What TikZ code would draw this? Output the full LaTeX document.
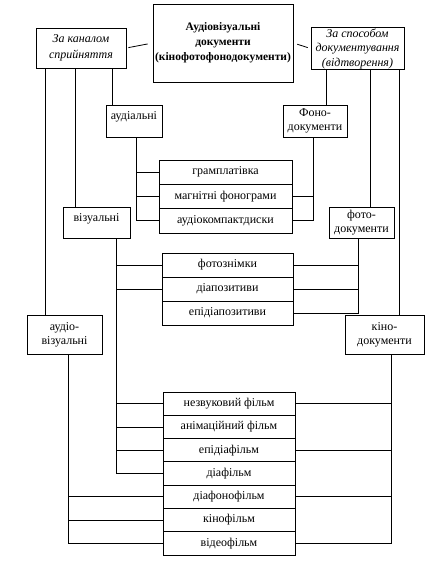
\documentclass[tikz,border=0pt]{standalone}
\usepackage{fontspec}
\setmainfont{Liberation Serif}
\begin{document}
\begin{tikzpicture}[x=1pt,y=-1pt,
  box/.style={draw, line width=0.8pt, inner sep=1pt, align=center,
    font=\fontsize{12}{14}\selectfont},
  row/.style={box},
  ln/.style={line width=0.8pt}]
\useasboundingbox (0,0) rectangle (447,564);
% top level
\node[box, minimum width=140, minimum height=78, font=\bfseries\fontsize{11.5}{15}\selectfont] (title) at (223,43)
  {Аудіовізуальні\\документи\\(кінофотофонодокументи)};
\node[box, minimum width=90, minimum height=40, font=\itshape\fontsize{12}{16}\selectfont] (cat1) at (81,48)
  {За каналом\\сприйняття};
\node[box, minimum width=93, minimum height=41, font=\itshape\fontsize{12}{14.5}\selectfont] (cat2) at (357.5,48.5)
  {За способом\\документування\\(відтворення)};
\draw[ln, shorten <=2pt, shorten >=5pt] (cat1.east) -- (title.west);
\draw[ln, shorten <=4pt, shorten >=3pt] (title.east) -- (cat2.west);
% second level
\node[box, minimum width=56, minimum height=32, text depth=10pt] (audial) at (134,121) {аудіальні};
\node[box, minimum width=64, minimum height=32, font=\fontsize{12}{14}\selectfont] (fono) at (315,121) {Фоно-\\документи};
\node[box, minimum width=67, minimum height=31, text depth=10pt] (vizual) at (96.5,222.5) {візуальні};
\node[box, minimum width=65, minimum height=31, font=\fontsize{12}{13.5}\selectfont] (foto) at (361.5,222.5) {фото-\\документи};
\node[box, minimum width=75, minimum height=39] (av) at (64.5,334.5) {аудіо-\\візуальні};
\node[box, minimum width=79, minimum height=39] (kino) at (384.5,334.5) {кіно-\\документи};
% audio list
\node[row, minimum width=133, minimum height=24.33] (a1) at (225.5,172.2) {грамплатівка};
\node[row, minimum width=133, minimum height=24.33] (a2) at (225.5,196.5) {магнітні фонограми};
\node[row, minimum width=133, minimum height=24.33] (a3) at (225.5,220.8) {аудіокомпактдиски};
% photo list
\node[row, minimum width=131, minimum height=24] (p1) at (227.5,265) {фотознімки};
\node[row, minimum width=131, minimum height=24] (p2) at (227.5,289) {діапозитиви};
\node[row, minimum width=131, minimum height=24] (p3) at (227.5,313) {епідіапозитиви};
% film list
\node[row, minimum width=132, minimum height=23.29] (f1) at (229,403.6) {незвуковий фільм};
\node[row, minimum width=132, minimum height=23.29] (f2) at (229,426.9) {анімаційний фільм};
\node[row, minimum width=132, minimum height=23.29] (f3) at (229,450.2) {епідіафільм};
\node[row, minimum width=132, minimum height=23.29] (f4) at (229,473.5) {діафільм};
\node[row, minimum width=132, minimum height=23.29] (f5) at (229,496.8) {діафонофільм};
\node[row, minimum width=132, minimum height=23.29] (f6) at (229,520.1) {кінофільм};
\node[row, minimum width=132, minimum height=23.29] (f7) at (229,543.4) {відеофільм};
% vertical line positions
\coordinate (xl1) at (45,0);
\coordinate (xl2) at (75,0);
\coordinate (xl3) at (112,0);
\coordinate (xr1) at (326,0);
\coordinate (xr2) at (370,0);
\coordinate (xr3) at (399,0);
\coordinate (xaud) at (136,0);
\coordinate (xfono) at (313,0);
\coordinate (xviz) at (116,0);
\coordinate (xfoto) at (358,0);
\coordinate (xav) at (68,0);
\coordinate (xkino) at (391,0);
% from category boxes
\draw[ln] (cat1.south -| xl1) -- (av.north -| xl1);
\draw[ln] (cat1.south -| xl2) -- (vizual.north -| xl2);
\draw[ln] (cat1.south -| xl3) -- (audial.north -| xl3);
\draw[ln] (cat2.south -| xr1) -- (fono.north -| xr1);
\draw[ln] (cat2.south -| xr2) -- (foto.north -| xr2);
\draw[ln] (cat2.south -| xr3) -- (kino.north -| xr3);
% audial
\draw[ln] (audial.south -| xaud) |- (a3.west);
\draw[ln] (a1.west) -- (a1.west -| xaud);
\draw[ln] (a2.west) -- (a2.west -| xaud);
% fono
\draw[ln] (fono.south -| xfono) |- (a3.east);
\draw[ln] (a2.east) -- (a2.east -| xfono);
% vizual
\draw[ln] (vizual.south -| xviz) |- (f4.west);
\draw[ln] (p1.west) -- (p1.west -| xviz);
\draw[ln] (p2.west) -- (p2.west -| xviz);
\draw[ln] (f1.west) -- (f1.west -| xviz);
\draw[ln] (f2.west) -- (f2.west -| xviz);
\draw[ln] (f3.west) -- (f3.west -| xviz);
% foto
\draw[ln] (foto.south -| xfoto) |- (p3.east);
\draw[ln] (p1.east) -- (p1.east -| xfoto);
\draw[ln] (p2.east) -- (p2.east -| xfoto);
% audio-visual
\draw[ln] (av.south -| xav) |- (f7.west);
\draw[ln] (f5.west) -- (f5.west -| xav);
\draw[ln] (f6.west) -- (f6.west -| xav);
% kino
\draw[ln] (kino.south -| xkino) |- (f7.east);
\draw[ln] (f1.east) -- (f1.east -| xkino);
\draw[ln] (f3.east) -- (f3.east -| xkino);
\draw[ln] (f5.east) -- (f5.east -| xkino);
\end{tikzpicture}
\end{document}
